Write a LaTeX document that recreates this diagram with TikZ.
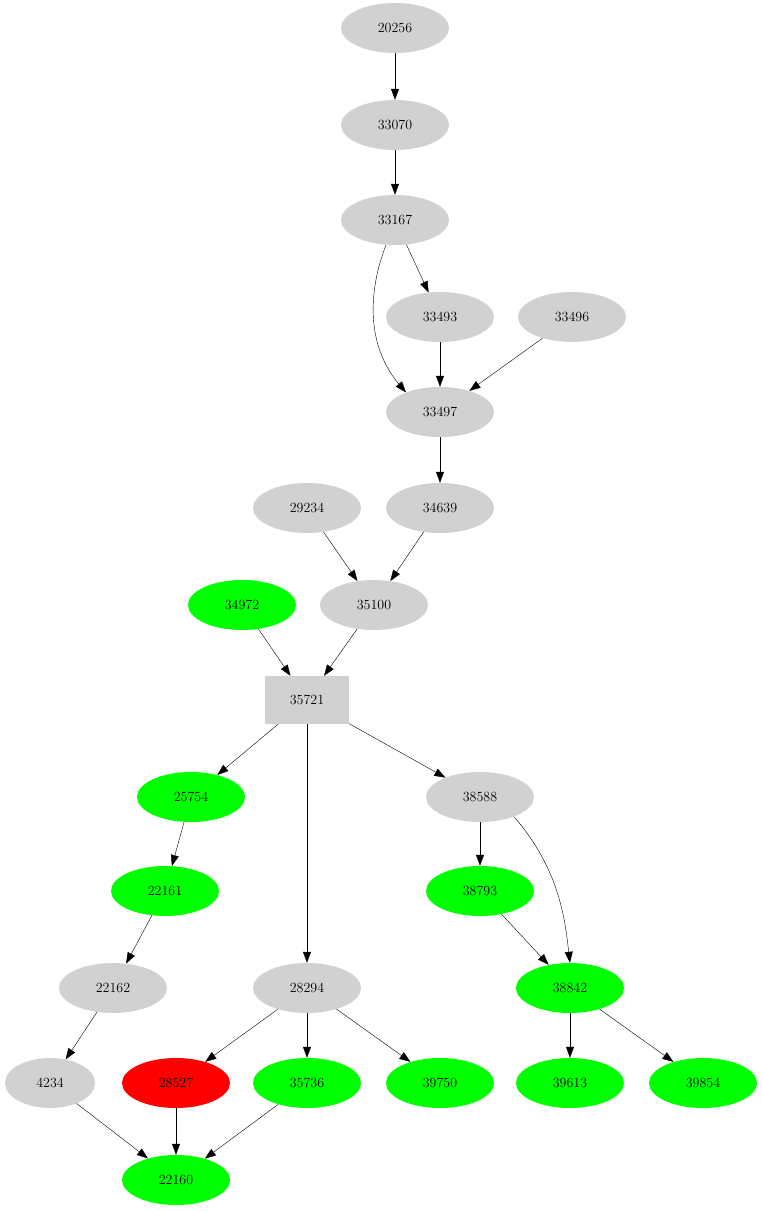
\documentclass[tikz,border=0pt]{standalone}
\usepackage{tikz}
\usetikzlibrary{shapes,arrows.meta,positioning}

\begin{document}
\begin{tikzpicture}[
    x=1pt, y=-1pt,
    font=\fontsize{14}{16}\selectfont,
    grey/.style={ellipse, fill=black!18, minimum width=108pt, minimum height=50pt, inner sep=0pt},
    green/.style={ellipse, fill=green, minimum width=108pt, minimum height=50pt, inner sep=0pt},
    red/.style={ellipse, fill=red, minimum width=108pt, minimum height=50pt, inner sep=0pt},
    sq/.style={rectangle, fill=black!18, minimum width=84pt, minimum height=48pt},
    arrow/.style={-{Triangle[length=11pt,width=8pt]}}
]
\useasboundingbox (0,0) rectangle (762,1211);

\node[grey] (n20256) at (395,28) {20256};
\node[grey] (n33070) at (395,125) {33070};
\node[grey] (n33167) at (395,220) {33167};
\node[grey] (n33493) at (440,317) {33493};
\node[grey] (n33496) at (572,317) {33496};
\node[grey] (n33497) at (440,412) {33497};
\node[grey] (n29234) at (307,508) {29234};
\node[grey] (n34639) at (440,508) {34639};
\node[green] (n34972) at (242,605) {34972};
\node[grey] (n35100) at (374,605) {35100};
\node[sq] (n35721) at (307,700) {35721};
\node[green] (n25754) at (191,797) {25754};
\node[grey] (n38588) at (480,797) {38588};
\node[green] (n22161) at (165,891) {22161};
\node[green] (n38793) at (480,891) {38793};
\node[grey] (n22162) at (113,988) {22162};
\node[grey] (n28294) at (307,988) {28294};
\node[green] (n38842) at (570,988) {38842};
\node[grey, minimum width=90pt] (n4234) at (50,1083) {4234};
\node[red] (n28527) at (176,1083) {28527};
\node[green] (n35736) at (307,1083) {35736};
\node[green] (n39750) at (440,1083) {39750};
\node[green] (n39613) at (570,1083) {39613};
\node[green] (n39854) at (703,1083) {39854};
\node[green] (n22160) at (176,1180) {22160};

\draw[arrow] (n20256) -- (n33070);
\draw[arrow] (n33070) -- (n33167);
\draw[arrow] (n33167) -- (n33493);
\draw[arrow] (n33167.250) .. controls (365,300) and (370,350) .. (n33497.150);
\draw[arrow] (n33493) -- (n33497);
\draw[arrow] (n33496) -- (n33497);
\draw[arrow] (n33497) -- (n34639);
\draw[arrow] (n29234) -- (n35100);
\draw[arrow] (n34639) -- (n35100);
\draw[arrow] (n34972) -- (n35721);
\draw[arrow] (n35100) -- (n35721);
\draw[arrow] (n35721) -- (n25754);
\draw[arrow] (n35721) -- (n28294);
\draw[arrow] (n35721) -- (n38588);
\draw[arrow] (n25754) -- (n22161);
\draw[arrow] (n22161) -- (n22162);
\draw[arrow] (n22162) -- (n4234);
\draw[arrow] (n38588) -- (n38793);
\draw[arrow] (n38588.330) .. controls (560,870) and (565,920) .. (n38842.north);
\draw[arrow] (n38793) -- (n38842);
\draw[arrow] (n28294) -- (n28527);
\draw[arrow] (n28294) -- (n35736);
\draw[arrow] (n28294) -- (n39750);
\draw[arrow] (n38842) -- (n39613);
\draw[arrow] (n38842) -- (n39854);
\draw[arrow] (n4234) -- (n22160);
\draw[arrow] (n28527) -- (n22160);
\draw[arrow] (n35736) -- (n22160);

\end{tikzpicture}
\end{document}
